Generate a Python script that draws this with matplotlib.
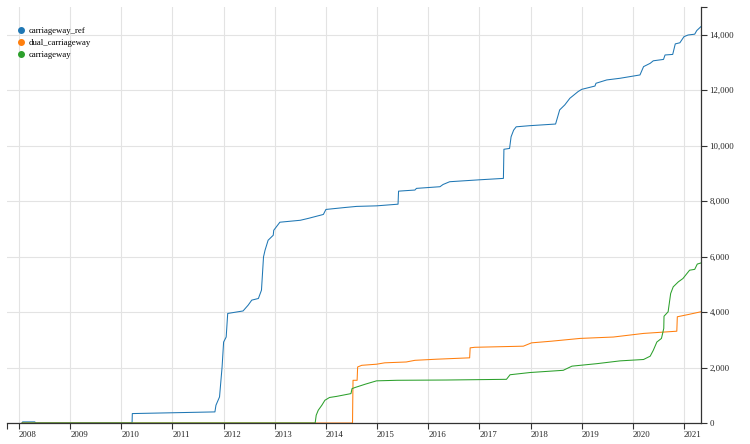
import matplotlib
matplotlib.use('Agg')
import matplotlib.pyplot as plt
from matplotlib.lines import Line2D
from matplotlib.ticker import FuncFormatter, FixedLocator

# cumulative counts, x in decimal years
ref_x = [2008.06, 2008.07, 2008.31, 2008.32, 2010.21, 2010.215, 2011.83, 2011.85, 2011.92, 2011.97,
         2012.00, 2012.05, 2012.08, 2012.38, 2012.48, 2012.55, 2012.68, 2012.74, 2012.78, 2012.81,
         2012.87, 2012.97, 2012.98, 2013.10, 2013.50, 2013.66, 2013.95, 2014.00, 2014.37, 2014.60,
         2014.99, 2015.41, 2015.42, 2015.74, 2015.77, 2016.23, 2016.29, 2016.42, 2017.01, 2017.47,
         2017.48, 2017.59, 2017.62, 2017.67, 2017.72, 2017.98, 2018.49, 2018.57, 2018.67, 2018.77,
         2018.93, 2019.00, 2019.26, 2019.28, 2019.49, 2019.75, 2020.14, 2020.21, 2020.34, 2020.40,
         2020.60, 2020.63, 2020.78, 2020.83, 2020.92, 2021.00, 2021.08, 2021.21, 2021.25, 2021.33]
ref_y = [0, 40, 40, 0, 0, 340, 400, 640, 940, 2020,
         2920, 3100, 3950, 4040, 4250, 4430, 4490, 4790, 5990, 6230,
         6590, 6770, 6950, 7240, 7310, 7380, 7520, 7700, 7770, 7810,
         7830, 7890, 8360, 8400, 8460, 8520, 8600, 8700, 8770, 8820,
         9870, 9900, 10320, 10560, 10680, 10720, 10780, 11290, 11470, 11710,
         11950, 12030, 12150, 12250, 12370, 12430, 12550, 12850, 12970, 13060,
         13110, 13270, 13290, 13670, 13710, 13930, 13990, 14020, 14150, 14290]

dual_x = [2008.06, 2014.52, 2014.525, 2014.53, 2014.61, 2014.62, 2014.70, 2014.99, 2015.15, 2015.57,
          2015.74, 2016.16, 2016.81, 2016.82, 2016.91, 2017.86, 2018.02, 2018.41, 2018.97, 2019.62,
          2020.21, 2020.86, 2020.87, 2021.08, 2021.33]
dual_y = [0, 0, 845, 1540, 1540, 2020, 2080, 2120, 2170, 2200,
          2260, 2300, 2350, 2710, 2730, 2770, 2890, 2950, 3050, 3100,
          3230, 3310, 3830, 3910, 4010]

cw_x = [2008.06, 2013.79, 2013.81, 2013.85, 2013.92, 2013.98, 2014.07, 2014.21, 2014.49, 2014.51,
        2014.57, 2014.77, 2014.99, 2015.39, 2016.36, 2017.53, 2017.60, 2017.99, 2018.64, 2018.81,
        2019.30, 2019.75, 2020.21, 2020.34, 2020.40, 2020.47, 2020.56, 2020.605, 2020.61, 2020.69,
        2020.74, 2020.79, 2020.89, 2020.98, 2021.11, 2021.21, 2021.26, 2021.33]
cw_y = [0, 0, 280, 460, 640, 820, 920, 960, 1060, 1240,
        1280, 1400, 1520, 1540, 1550, 1575, 1740, 1820, 1900, 2050,
        2140, 2240, 2290, 2410, 2620, 2920, 3050, 3410, 3850, 4010,
        4670, 4910, 5090, 5210, 5510, 5540, 5730, 5770]

names = ['carriageway_ref', 'dual_carriageway', 'carriageway']
colors = ['#1f77b4', '#ff7f0e', '#2ca02c']
years = list(range(2008, 2022))
y_ticks = list(range(0, 15000, 2000))

plt.rcParams['font.family'] = ['Liberation Serif', 'DejaVu Serif']
plt.rcParams['font.size'] = 6.3

fig = plt.figure(figsize=(7.5, 4.44), dpi=100)
ax = fig.add_axes([7 / 750, 21 / 444, 694 / 750, 416 / 444])

ax.plot(ref_x, ref_y, color=colors[0], lw=0.75)
ax.plot(dual_x, dual_y, color=colors[1], lw=0.75)
ax.plot(cw_x, cw_y, color=colors[2], lw=0.75)

ax.set_xlim(2007.765, 2021.333)
ax.set_ylim(0, 15000)

ax.set_xticks(years)
ax.set_xticklabels([str(y) for y in years], ha='left')
ax.set_yticks(y_ticks)
ax.yaxis.set_major_formatter(FuncFormatter(lambda v, p: '{:,.0f}'.format(v)))
ax.yaxis.tick_right()
ax.xaxis.set_minor_locator(FixedLocator([2007.765]))
ax.yaxis.set_minor_locator(FixedLocator([15000]))

for lab in ax.get_xticklabels():
    lab.set_transform(lab.get_transform() + matplotlib.transforms.ScaledTranslation(3 / 100, 0, fig.dpi_scale_trans))

ax.grid(True, which='major', color='#e3e3e3', lw=0.8)
ax.set_axisbelow(True)
ax.tick_params(axis='both', which='both', length=4, width=0.8, color='#333333', labelcolor='#222222', pad=2)
ax.tick_params(axis='y', which='both', right=True, left=False)

for s in ['left', 'top']:
    ax.spines[s].set_visible(False)
for s in ['bottom', 'right']:
    ax.spines[s].set_color('#333333')
    ax.spines[s].set_linewidth(0.9)

handles = [Line2D([], [], marker='o', ls='', color=c, markersize=4) for c in colors]
ax.legend(handles, names, loc='upper left', bbox_to_anchor=(0.017, 0.952), frameon=False,
          handlelength=0.6, handletextpad=0.5, labelspacing=0.45, borderpad=0, borderaxespad=0,
          fontsize=6.3)

fig.savefig('out.png', dpi=100)
